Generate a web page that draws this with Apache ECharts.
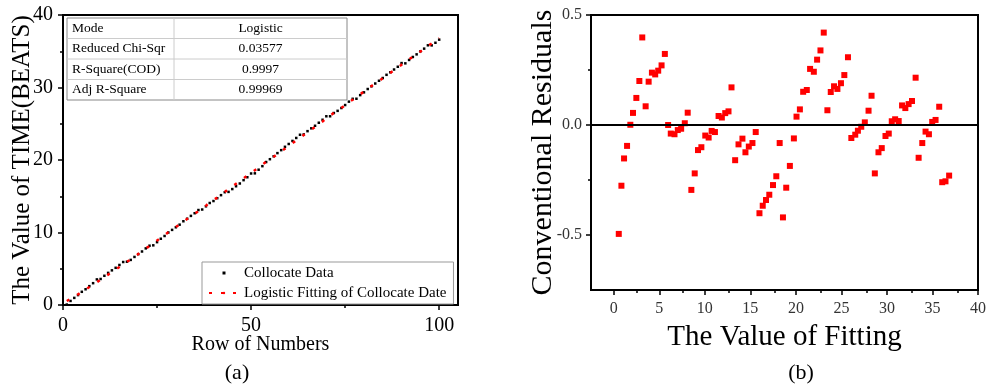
<!DOCTYPE html>
<html>
<head>
<meta charset="utf-8">
<script src="https://cdn.jsdelivr.net/npm/echarts@6/dist/echarts.min.js"></script>
<style>
  html, body { margin: 0; background: #fff; }
  #chart { width: 989px; height: 387px; }
</style>
</head>
<body>
<div id="chart"></div>
<script>
// (a) row number vs observed value
const rows = [1, 2, 3, 4, 5, 6, 7, 8, 9, 10, 11, 12, 13, 14, 15, 16, 17, 18, 19, 20,
  21, 22, 23, 24, 25, 26, 27, 28, 29, 30, 31, 32, 33, 34, 35, 36, 37, 38, 39, 40,
  41, 42, 43, 44, 45, 46, 47, 48, 49, 50, 51, 52, 53, 54, 55, 56, 57, 58, 59, 60,
  61, 62, 63, 64, 65, 66, 67, 68, 69, 70, 71, 72, 73, 74, 75, 76, 77, 78, 79, 80,
  81, 82, 83, 84, 85, 86, 87, 88, 89, 90, 91, 92, 93, 94, 95, 96, 97, 98, 99, 100]

const collocate = [0.06, 0.56, 0.98, 1.37, 1.82, 2.17, 2.60, 3.01, 3.53, 3.59,
  4.03, 4.43, 4.78, 5.13, 5.52, 5.93, 5.97, 6.22, 6.63, 7.01,
  7.38, 7.81, 8.18, 8.23, 8.67, 9.14, 9.52, 10.00, 10.36, 10.72,
  11.08, 11.55, 11.90, 12.29, 12.66, 13.10, 13.17, 13.61, 14.07, 14.34,
  14.73, 15.15, 15.56, 15.60, 15.99, 16.38, 16.76, 17.22, 17.62, 18.14,
  18.16, 18.66, 19.15, 19.72, 20.11, 20.51, 20.95, 21.36, 21.82, 22.21,
  22.63, 23.04, 23.48, 23.53, 23.98, 24.37, 24.72, 25.14, 25.55, 26.03,
  26.03, 26.48, 26.78, 27.17, 27.58, 28.05, 28.44, 28.45, 28.95, 29.33,
  29.79, 30.16, 30.55, 30.93, 31.31, 31.75, 32.10, 32.48, 32.86, 33.37,
  33.33, 33.80, 34.21, 34.57, 34.98, 35.36, 35.82, 35.81, 36.17, 36.60]

// logistic fitted values (also the x of panel b)
const fitted = [0.55, 0.84, 1.13, 1.46, 1.82, 2.11, 2.48, 2.81, 3.13, 3.50,
  3.83, 4.19, 4.55, 4.88, 5.25, 5.61, 5.97, 6.26, 6.67, 7.03,
  7.40, 7.80, 8.12, 8.52, 8.89, 9.25, 9.62, 10.05, 10.42, 10.75,
  11.11, 11.51, 11.87, 12.24, 12.60, 12.93, 13.33, 13.70, 14.13, 14.46,
  14.83, 15.23, 15.59, 16.00, 16.36, 16.72, 17.08, 17.49, 17.85, 18.22,
  18.58, 18.94, 19.34, 19.78, 20.07, 20.44, 20.80, 21.20, 21.56, 21.97,
  22.33, 22.70, 23.06, 23.46, 23.83, 24.19, 24.56, 24.95, 25.32, 25.72,
  26.09, 26.52, 26.81, 27.18, 27.57, 27.98, 28.31, 28.67, 29.07, 29.43,
  29.84, 30.20, 30.53, 30.90, 31.29, 31.66, 32.02, 32.38, 32.75, 33.15,
  33.48, 33.88, 34.24, 34.61, 34.97, 35.34, 35.74, 36.07, 36.43, 36.83]

// (b) conventional residuals
const residuals = [-0.495, -0.276, -0.152, -0.095, 0.001, 0.055, 0.123, 0.200, 0.398, 0.085,
  0.197, 0.238, 0.230, 0.247, 0.271, 0.323, 0.000, -0.039, -0.042, -0.023,
  -0.017, 0.008, 0.056, -0.295, -0.220, -0.114, -0.101, -0.048, -0.057, -0.027,
  -0.032, 0.041, 0.034, 0.054, 0.062, 0.171, -0.160, -0.088, -0.062, -0.124,
  -0.098, -0.082, -0.032, -0.401, -0.367, -0.341, -0.317, -0.273, -0.233, -0.082,
  -0.420, -0.285, -0.186, -0.061, 0.038, 0.071, 0.151, 0.159, 0.255, 0.242,
  0.297, 0.339, 0.420, 0.067, 0.150, 0.176, 0.164, 0.190, 0.227, 0.308,
  -0.059, -0.044, -0.026, -0.008, 0.012, 0.065, 0.133, -0.220, -0.124, -0.105,
  -0.050, -0.039, 0.017, 0.026, 0.018, 0.089, 0.077, 0.095, 0.109, 0.215,
  -0.149, -0.082, -0.030, -0.042, 0.014, 0.023, 0.083, -0.260, -0.256, -0.230]

const tableLabels = ['Mode', 'Reduced Chi-Sqr', 'R-Square(COD)', 'Adj R-Square']
const tableValues = ['Logistic', '0.03577', '0.9997', '0.99969']

const leftXTicks = [0, 50, 100]
const leftXMinor = [25, 75]
const leftYTicks = [0, 10, 20, 30, 40]
const leftYMinor = [5, 15, 25, 35]
const rightXTicks = [0, 5, 10, 15, 20, 25, 30, 35, 40]
const rightXMinor = [2.5, 7.5, 12.5, 17.5, 22.5, 27.5, 32.5, 37.5]
const rightYTicks = [-0.5, 0, 0.5]
const rightYMinor = [-0.25, 0.25]

const serif = '"Liberation Serif", "Times New Roman", serif'

// main axis with labels and long ticks
const mainAxis = (gridIndex, min, max, ticks, o) => ({
  gridIndex,
  type: 'value',
  min,
  max,
  name: o.name,
  nameLocation: 'middle',
  nameGap: o.nameGap,
  nameMoveOverlap: false,
  nameTextStyle: { fontFamily: serif, fontSize: o.nameSize, color: '#000' },
  axisLine: { onZero: false, lineStyle: { color: '#000', width: 2 } },
  axisTick: { customValues: ticks, length: 5, lineStyle: { color: '#000', width: 1.5 } },
  axisLabel: {
    customValues: ticks,
    margin: o.margin,
    fontFamily: serif,
    fontSize: o.labelSize,
    color: o.labelColor,
    formatter: o.fmt,
  },
  splitLine: { show: false },
})

// overlay axis carrying only the short ticks
const minorAxis = (gridIndex, min, max, ticks) => ({
  gridIndex,
  type: 'value',
  min,
  max,
  axisLine: { show: false, onZero: false },
  axisTick: { customValues: ticks, length: 3, lineStyle: { color: '#000', width: 1.5 } },
  axisLabel: { show: false },
  splitLine: { show: false },
})

// stats table in panel (a)
const tbl = { x: 67, y: 18, w: 280, rowH: 20.5, colX: 174 }
const tableGraphic = [
  {
    type: 'rect',
    shape: { x: tbl.x, y: tbl.y, width: tbl.w, height: tbl.rowH * 4 },
    style: { fill: '#fff', stroke: '#888', lineWidth: 1 },
  },
  {
    type: 'line',
    shape: { x1: tbl.colX, y1: tbl.y, x2: tbl.colX, y2: tbl.y + tbl.rowH * 4 },
    style: { stroke: '#ccc', lineWidth: 1 },
  },
]
tableLabels.forEach((label, i) => {
  const cy = tbl.y + tbl.rowH * (i + 0.5)
  if (i > 0) {
    tableGraphic.push({
      type: 'line',
      shape: { x1: tbl.x, y1: tbl.y + tbl.rowH * i, x2: tbl.x + tbl.w, y2: tbl.y + tbl.rowH * i },
      style: { stroke: '#ccc', lineWidth: 1 },
    })
  }
  tableGraphic.push({
    type: 'text',
    style: { text: label, x: tbl.x + 5, y: cy, font: '13.5px ' + serif, fill: '#000', align: 'left', verticalAlign: 'middle' },
  })
  tableGraphic.push({
    type: 'text',
    style: { text: tableValues[i], x: (tbl.colX + tbl.x + tbl.w) / 2, y: cy, font: '13.5px ' + serif, fill: '#000', align: 'center', verticalAlign: 'middle' },
  })
})

const option = {
  animation: false,
  backgroundColor: '#fff',
  title: [
    { text: '(a)', left: 232, top: 357, textAlign: 'center', textStyle: { fontFamily: serif, fontSize: 22, fontWeight: 'normal', color: '#000' } },
    { text: '(b)', left: 796, top: 357, textAlign: 'center', textStyle: { fontFamily: serif, fontSize: 22, fontWeight: 'normal', color: '#000' } },
  ],
  grid: [
    { left: 63, top: 15, width: 395, height: 290, show: true, borderColor: '#000', borderWidth: 2 },
    { left: 591, top: 15, width: 390, height: 275, show: true, borderColor: '#000', borderWidth: 2 },
    { left: 63, top: 15, width: 395, height: 290 },
    { left: 591, top: 15, width: 390, height: 275 },
  ],
  xAxis: [
    mainAxis(0, 0, 105, leftXTicks, { name: 'Row of Numbers', nameGap: 30, nameSize: 20, margin: 11, labelSize: 20, labelColor: '#000' }),
    mainAxis(1, -2.5, 40, rightXTicks, { name: 'The Value of Fitting', nameGap: 33, nameSize: 29, margin: 11, labelSize: 16, labelColor: '#333' }),
    minorAxis(2, 0, 105, leftXMinor),
    minorAxis(3, -2.5, 40, rightXMinor),
  ],
  yAxis: [
    mainAxis(0, 0, 40, leftYTicks, { name: 'The Value of TIME(BEATS)', nameGap: 28, nameSize: 25, margin: 10, labelSize: 20, labelColor: '#000' }),
    mainAxis(1, -0.75, 0.5, rightYTicks, { name: 'Conventional Residuals', nameGap: 33, nameSize: 30, margin: 9, labelSize: 16, labelColor: '#333', fmt: (v) => v.toFixed(1) }),
    minorAxis(2, 0, 40, leftYMinor),
    minorAxis(3, -0.75, 0.5, rightYMinor),
  ],
  legend: {
    left: 202,
    top: 262,
    orient: 'vertical',
    backgroundColor: '#fff',
    borderColor: '#999',
    borderWidth: 1,
    borderRadius: 0,
    padding: [3.5, 7, 3.5, 6],
    itemWidth: 30,
    itemHeight: 3,
    itemGap: 5,
    symbolKeepAspect: true,
    textStyle: { fontFamily: serif, fontSize: 15, color: '#000' },
    data: [
      { name: 'Collocate Data', icon: 'path://M0,0h1v1h-1z' },
      { name: 'Logistic Fitting of Collocate Date' },
    ],
  },
  graphic: tableGraphic,
  series: [
    {
      name: 'Collocate Data',
      type: 'scatter',
      xAxisIndex: 0,
      yAxisIndex: 0,
      symbol: 'rect',
      symbolSize: 2.5,
      itemStyle: { color: '#000', opacity: 1 },
      data: rows.map((r, i) => [r, collocate[i]]),
    },
    {
      name: 'Logistic Fitting of Collocate Date',
      type: 'line',
      xAxisIndex: 0,
      yAxisIndex: 0,
      symbol: 'none',
      lineStyle: { color: '#ff0000', width: 2.5, type: [3, 9] },
      itemStyle: { color: '#ff0000' },
      data: rows.map((r, i) => [r, fitted[i]]),
    },
    {
      name: 'Residuals',
      type: 'scatter',
      xAxisIndex: 1,
      yAxisIndex: 1,
      symbol: 'rect',
      symbolSize: 6,
      itemStyle: { color: '#ff0000', opacity: 1 },
      data: fitted.map((f, i) => [f, residuals[i]]),
      markLine: {
        silent: true,
        symbol: ['none', 'none'],
        label: { show: false },
        lineStyle: { color: '#000', width: 2, type: 'solid' },
        data: [{ yAxis: 0 }],
      },
    },
  ],
}

const chart = echarts.init(document.getElementById('chart'))
chart.setOption(option)
</script>
</body>
</html>
